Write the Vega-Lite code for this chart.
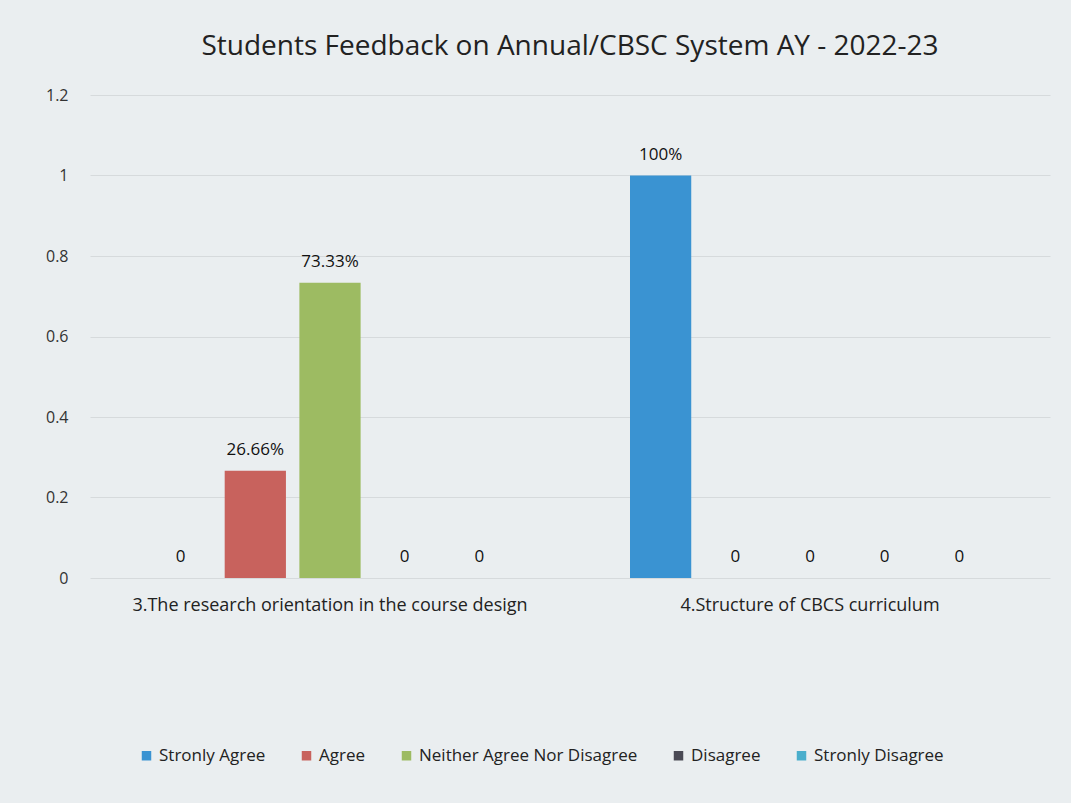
{
  "$schema": "https://vega.github.io/schema/vega-lite/v6.json",
  "width": 960,
  "height": 483,
  "autosize": "none",
  "padding": {"left": 90, "top": 95, "right": 21, "bottom": 225},
  "background": "#eaeef0",
  "config": {"view": {"stroke": null}},
  "title": {
    "text": "Students Feedback on Annual/CBSC System AY - 2022-23",
    "font": "Open Sans",
    "fontSize": 28,
    "fontWeight": "normal",
    "color": "#222222",
    "anchor": "middle",
    "offset": 26
  },
  "data": {
    "values": [
      {"question": "3.The research orientation in the course design", "response": "Stronly Agree", "value": 0, "label": "0"},
      {"question": "3.The research orientation in the course design", "response": "Agree", "value": 0.2666, "label": "26.66%"},
      {"question": "3.The research orientation in the course design", "response": "Neither Agree Nor Disagree", "value": 0.7333, "label": "73.33%"},
      {"question": "3.The research orientation in the course design", "response": "Disagree", "value": 0, "label": "0"},
      {"question": "3.The research orientation in the course design", "response": "Stronly Disagree", "value": 0, "label": "0"},
      {"question": "4.Structure of CBCS curriculum", "response": "Stronly Agree", "value": 1, "label": "100%"},
      {"question": "4.Structure of CBCS curriculum", "response": "Agree", "value": 0, "label": "0"},
      {"question": "4.Structure of CBCS curriculum", "response": "Neither Agree Nor Disagree", "value": 0, "label": "0"},
      {"question": "4.Structure of CBCS curriculum", "response": "Disagree", "value": 0, "label": "0"},
      {"question": "4.Structure of CBCS curriculum", "response": "Stronly Disagree", "value": 0, "label": "0"}
    ]
  },
  "encoding": {
    "x": {
      "field": "question",
      "type": "nominal",
      "sort": null,
      "title": null,
      "scale": {"paddingInner": 0.25, "paddingOuter": 0.125},
      "axis": {
        "labelAngle": 0,
        "labelFont": "Open Sans",
        "labelFontSize": 18,
        "labelColor": "#222222",
        "labelPadding": 18,
        "domain": false,
        "ticks": false,
        "labelLimit": 500
      }
    },
    "xOffset": {
      "field": "response",
      "type": "nominal",
      "sort": ["Stronly Agree", "Agree", "Neither Agree Nor Disagree", "Disagree", "Stronly Disagree"],
      "scale": {"paddingInner": 0.18}
    },
    "y": {
      "field": "value",
      "type": "quantitative",
      "title": null,
      "scale": {"domain": [0, 1.2]},
      "axis": {
        "values": [0, 0.2, 0.4, 0.6, 0.8, 1, 1.2],
        "format": "~g",
        "labelFont": "Open Sans",
        "labelFontSize": 16,
        "labelColor": "#333333",
        "labelPadding": 22,
        "domain": false,
        "ticks": false,
        "grid": true,
        "gridColor": "#d6dadc",
        "gridWidth": 1
      }
    }
  },
  "layer": [
    {
      "mark": {"type": "bar"},
      "encoding": {
        "color": {
          "field": "response",
          "type": "nominal",
          "sort": ["Stronly Agree", "Agree", "Neither Agree Nor Disagree", "Disagree", "Stronly Disagree"],
          "scale": {
            "domain": ["Stronly Agree", "Agree", "Neither Agree Nor Disagree", "Disagree", "Stronly Disagree"],
            "range": ["#3a93d2", "#c8625d", "#9dbb62", "#4a4a55", "#4aaecc"]
          },
          "legend": {
            "title": null,
            "orient": "none",
            "legendX": 48,
            "legendY": 652,
            "direction": "horizontal",
            "symbolType": "square",
            "symbolSize": 90,
            "labelFont": "Open Sans",
            "labelFontSize": 17,
            "labelColor": "#222222",
            "columnPadding": 32,
            "labelLimit": 400
          }
        }
      }
    },
    {
      "mark": {
        "type": "text",
        "baseline": "bottom",
        "dy": -12,
        "font": "Open Sans",
        "fontSize": 17,
        "color": "#111111"
      },
      "encoding": {
        "text": {"field": "label", "type": "nominal"}
      }
    }
  ]
}
